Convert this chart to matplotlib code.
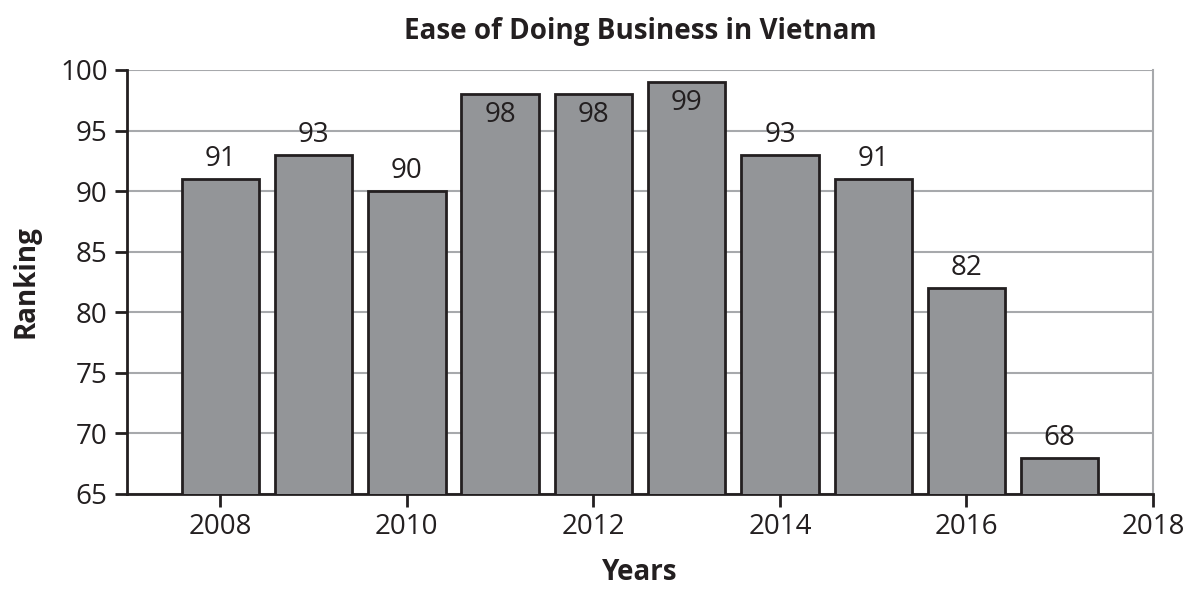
# Bar chart: Ease of Doing Business in Vietnam.
import matplotlib.pyplot as plt

plt.rcParams['font.family'] = ['Open Sans', 'DejaVu Sans']

# Data.
years = [2008, 2009, 2010, 2011, 2012, 2013, 2014, 2015, 2016, 2017]
ranking = [91, 93, 90, 98, 98, 99, 93, 91, 82, 68]
x_ticks = [2008, 2010, 2012, 2014, 2016, 2018]
y_ticks = [65, 70, 75, 80, 85, 90, 95, 100]

fig = plt.figure(figsize=(11.94, 5.94), dpi=100)
ax = fig.add_axes([0.1064, 0.1684, 0.8593, 0.7138])

bar_color = '#939598'
edge_color = '#231f20'

ax.bar(years, ranking, width=0.83, color=bar_color, edgecolor=edge_color,
       linewidth=2, zorder=3)

# Value labels: above the bar, or inside it when the bar is near the top.
for x, v in zip(years, ranking):
    if v >= 98:
        ax.text(x, v - 0.6, str(v), ha='center', va='top', fontsize=20,
                color=edge_color, zorder=4)
    else:
        ax.text(x, v + 0.5, str(v), ha='center', va='bottom', fontsize=20,
                color=edge_color, zorder=4)

ax.set_xlim(2007, 2018)
ax.set_ylim(65, 100)
ax.set_xticks(x_ticks)
ax.set_yticks(y_ticks)
ax.tick_params(axis='both', labelsize=20, colors=edge_color, width=2, length=9,
               direction='out', pad=5)

# Grid
ax.grid(axis='y', color='#a7a9ac', linewidth=1.5, zorder=0)

ax.spines['left'].set_color(edge_color)
ax.spines['left'].set_linewidth(2)
ax.spines['bottom'].set_color(edge_color)
ax.spines['bottom'].set_linewidth(2)
ax.spines['right'].set_color('#a7a9ac')
ax.spines['right'].set_linewidth(1.5)
ax.spines['top'].set_visible(False)

ax.set_title('Ease of Doing Business in Vietnam', fontsize=20, fontweight='bold',
             color=edge_color, pad=22)
ax.set_xlabel('Years', fontsize=20, fontweight='bold', color=edge_color, labelpad=12)
ax.set_ylabel('Ranking', fontsize=20, fontweight='bold', color=edge_color, labelpad=14)

plt.savefig('out.png', dpi=100)
